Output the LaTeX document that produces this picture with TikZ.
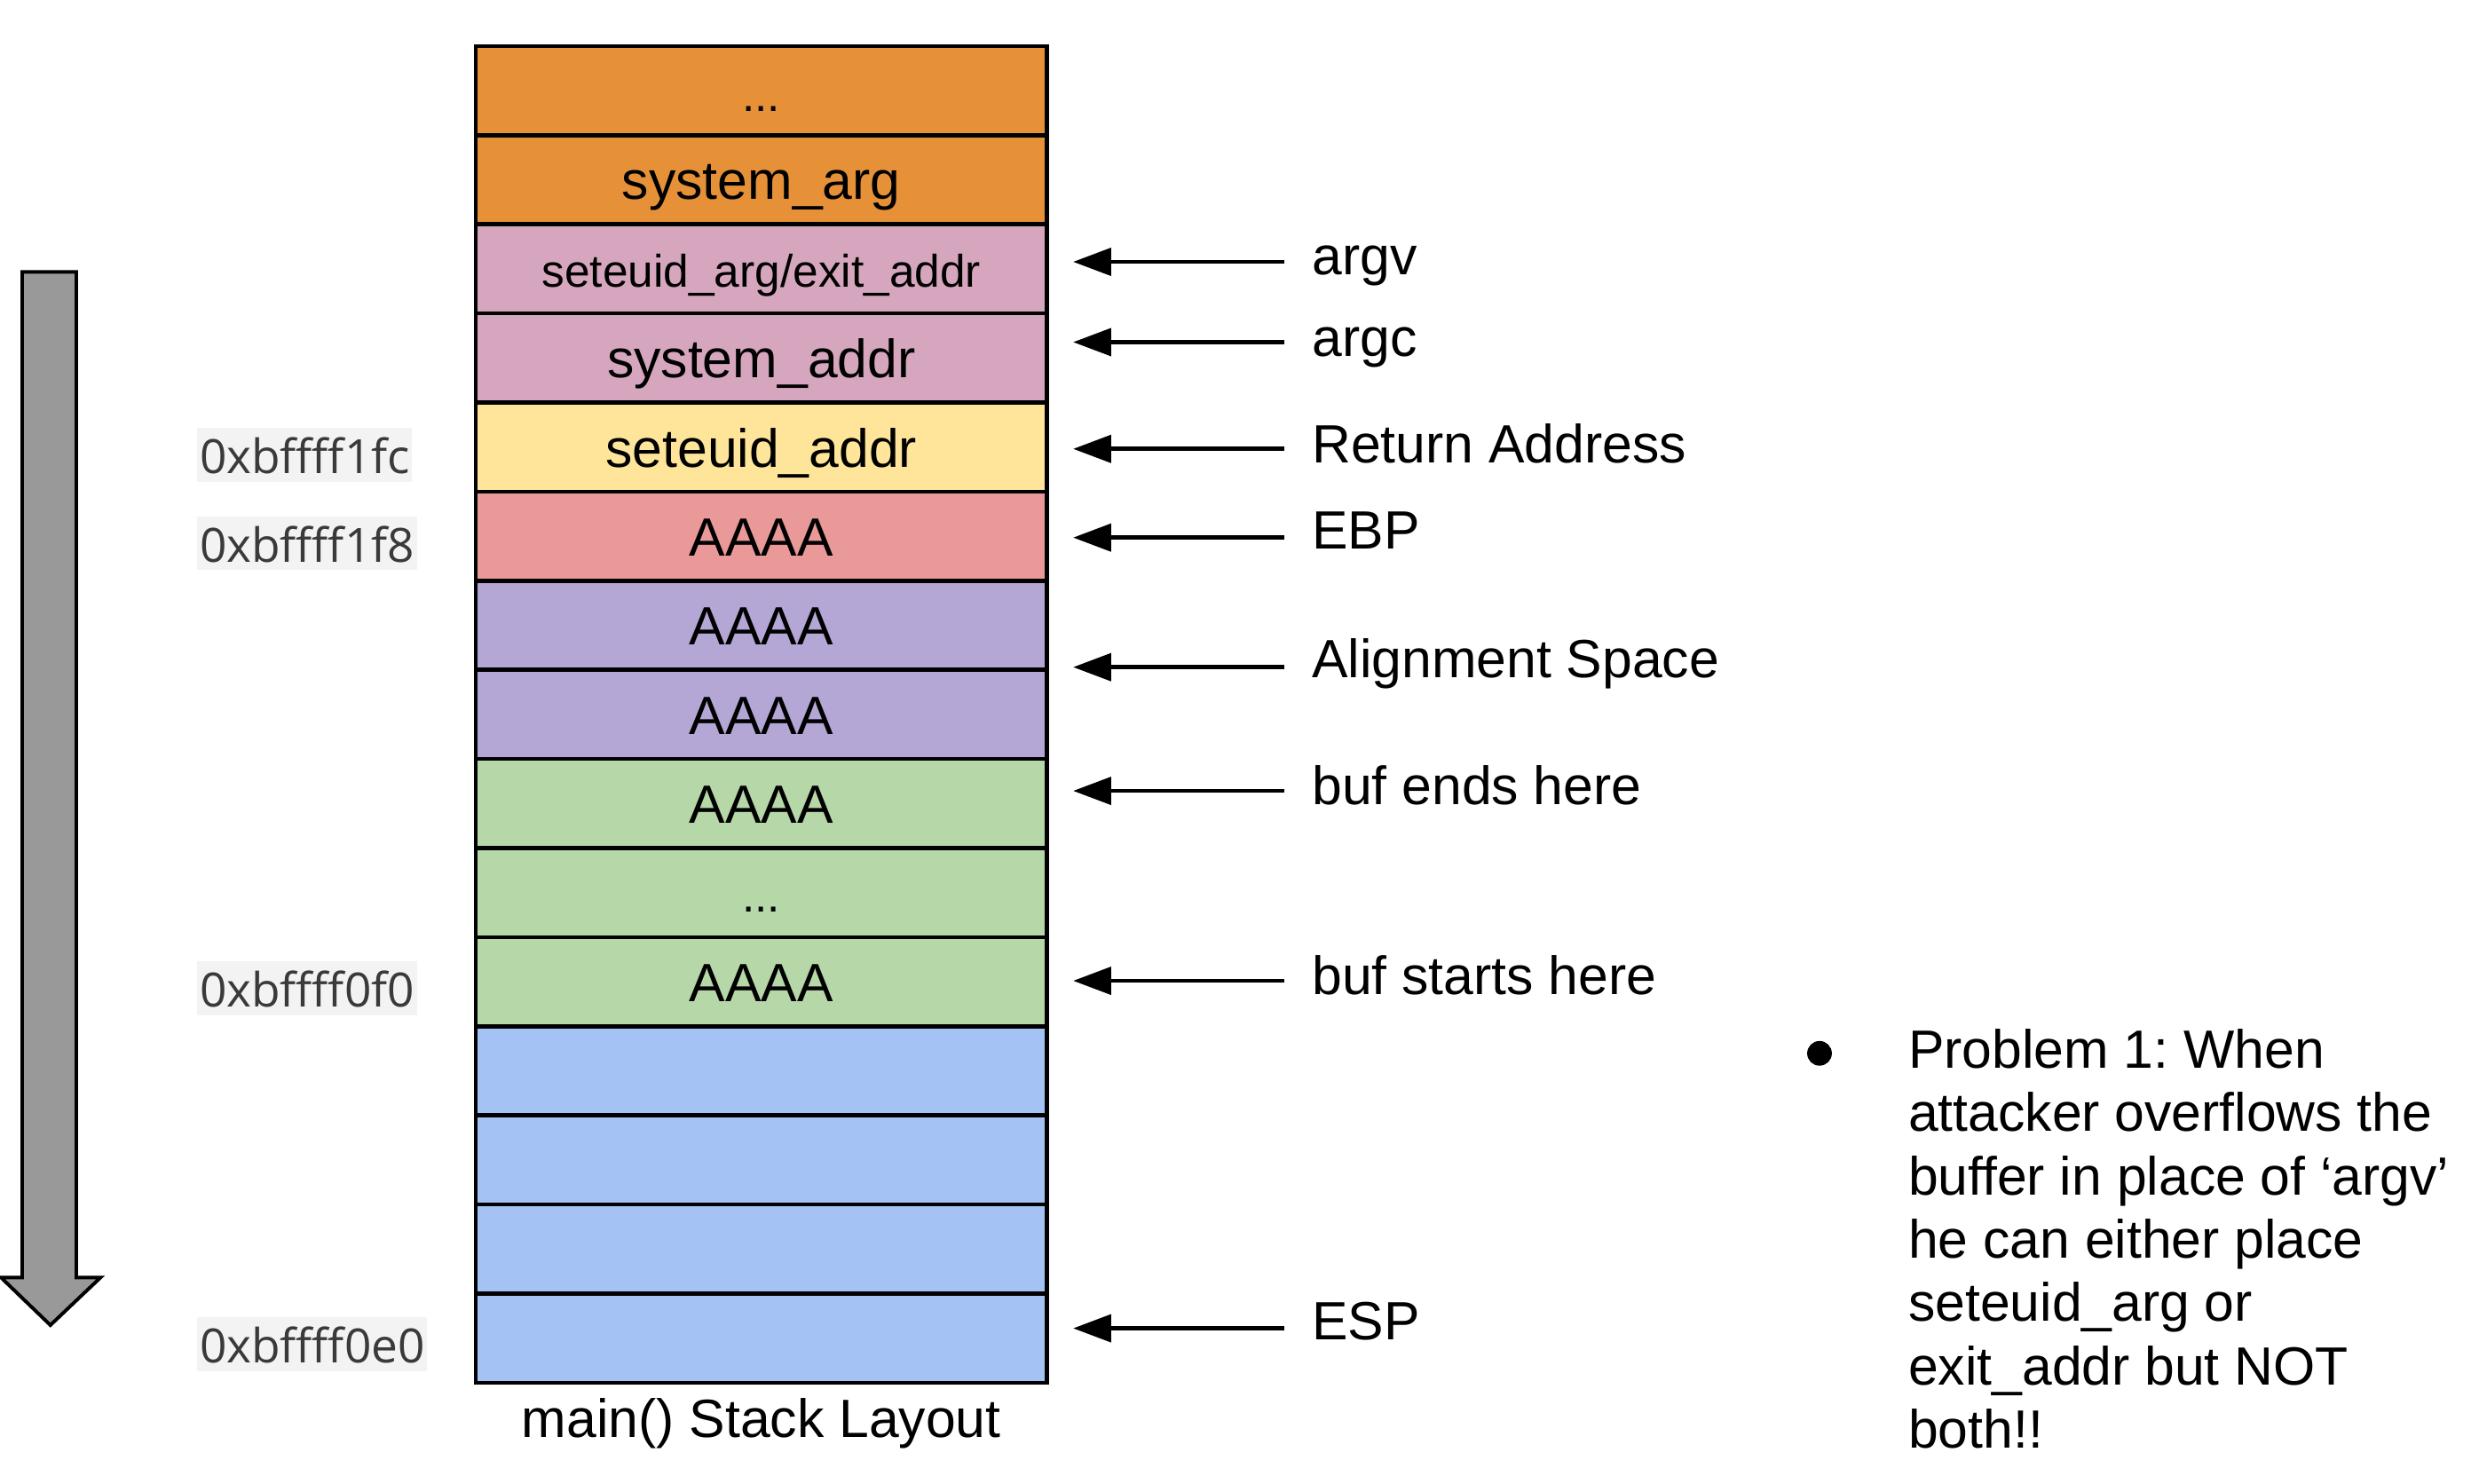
\documentclass[tikz,border=0pt]{standalone}
\usepackage{fontspec}
\setmainfont{Liberation Sans}
\newfontfamily\addrfont{Open Sans}
\usetikzlibrary{arrows.meta}
\definecolor{corange}{HTML}{E69138}
\definecolor{cpink}{HTML}{D5A6BD}
\definecolor{cyellow}{HTML}{FFE599}
\definecolor{cred}{HTML}{EA9999}
\definecolor{cpurple}{HTML}{B4A7D6}
\definecolor{cgreen}{HTML}{B6D7A8}
\definecolor{cblue}{HTML}{A4C2F4}
\definecolor{addrbg}{HTML}{F3F3F3}
\definecolor{addrtext}{HTML}{3A3A3A}
\definecolor{biggray}{HTML}{999999}
\frenchspacing
\begin{document}
\begin{tikzpicture}[x=0.5pt,y=-0.5pt,
  cell/.style={draw=black, line width=1.3pt, minimum width=180.35pt, minimum height=28.13pt,
    inner sep=0pt, text height=12.5pt, text depth=0pt, font=\fontsize{17}{20}\selectfont},
  smallcell/.style={cell, text height=11.3pt, font=\fontsize{14.4}{17}\selectfont},
  dotcell/.style={cell, text height=13pt, font=\fontsize{14.4}{17}\selectfont},
  addr/.style={fill=addrbg, text=addrtext, font=\addrfont\fontsize{14.9}{17}\selectfont,
    inner xsep=0.75pt, inner ysep=0pt, text height=14.35pt, text depth=2.65pt, anchor=base west},
  lbl/.style={inner sep=0pt, font=\fontsize{17}{20}\selectfont, anchor=base west},
  ptr/.style={-{Triangle[length=12pt,width=8.6pt]}, line width=1.35pt},
  bigarrow/.style={fill=biggray, draw=black, line width=1.1pt, line join=miter}
]
\useasboundingbox (0,0) rectangle (1560,936.9);

% big downward arrow
\draw[bigarrow] (14,171.7) -- (48.2,171.7) -- (48.2,806.5) -- (63.5,806.5) -- (31.8,836.6)
  -- (0.6,806.5) -- (14,806.5) -- cycle;

% stack cells
\node[dotcell, fill=corange] (r1) at (480.65,57.23) {...};
\node[cell, fill=corange] (r2) at (480.65,113.49) {system\_arg};
\node[smallcell, fill=cpink] (r3) at (480.65,169.75) {seteuid\_arg/exit\_addr};
\node[cell, fill=cpink] (r4) at (480.65,226.01) {system\_addr};
\node[cell, fill=cyellow] (r5) at (480.65,282.27) {seteuid\_addr};
\node[cell, fill=cred] (r6) at (480.65,338.53) {AAAA};
\node[cell, fill=cpurple] (r7) at (480.65,394.79) {AAAA};
\node[cell, fill=cpurple] (r8) at (480.65,451.05) {AAAA};
\node[cell, fill=cgreen] (r9) at (480.65,507.31) {AAAA};
\node[dotcell, text height=12.4pt, fill=cgreen] (r10) at (480.65,563.57) {...};
\node[cell, fill=cgreen] (r11) at (480.65,619.83) {AAAA};
\node[cell, fill=cblue] (r12) at (480.65,676.09) {};
\node[cell, fill=cblue] (r13) at (480.65,732.35) {};
\node[cell, fill=cblue] (r14) at (480.65,788.61) {};
\node[cell, fill=cblue] (r15) at (480.65,844.87) {};

% caption
\node[lbl, anchor=base] (cap) at (480.65,907.7) {main() Stack Layout};

% addresses
\node[addr] (a1) at (124.2,298.7) {0xbffff1fc};
\node[addr] (a2) at (124.2,354.7) {0xbffff1f8};
\node[addr] (a3) at (124.2,635.8) {0xbffff0f0};
\node[addr] (a4) at (124.2,860.5) {0xbffff0e0};

% right labels
\node[lbl] (l1) at (828,173.7) {argv};
\node[lbl] (l2) at (828,225) {argc};
\node[lbl] (l3) at (828,292.3) {Return Address};
\node[lbl] (l4) at (828,346.3) {EBP};
\node[lbl] (l5) at (828,427.7) {Alignment Space};
\node[lbl] (l6) at (828,507.7) {buf ends here};
\node[lbl] (l7) at (828,628) {buf starts here};
\node[lbl] (l8) at (828,846.1) {ESP};

% arrow end points
\coordinate (t1) at (810.6,165.3);  \coordinate (h1) at (677.5,165.3);
\coordinate (t2) at (810.6,216);    \coordinate (h2) at (677.5,216);
\coordinate (t3) at (810.6,283.4);  \coordinate (h3) at (677.5,283.4);
\coordinate (t4) at (810.6,339.4);  \coordinate (h4) at (677.5,339.4);
\coordinate (t5) at (810.6,421.2);  \coordinate (h5) at (677.5,421.2);
\coordinate (t6) at (810.6,499.3);  \coordinate (h6) at (677.5,499.3);
\coordinate (t7) at (810.6,619.2);  \coordinate (h7) at (677.5,619.2);
\coordinate (t8) at (810.6,838.6);  \coordinate (h8) at (677.5,838.6);
\foreach \i in {1,...,8} { \draw[ptr] (t\i) -- (h\i); }

% bullet note
\node[circle, fill=black, inner sep=0pt, minimum size=7.8pt] (bul) at (1148.7,665) {};
\node[inner sep=0pt, anchor=base west] (note) at (1204.4,674.3)
  {\fontsize{17}{20}\selectfont\begin{tabular}[t]{@{}l@{}}
  Problem 1: When\\
  attacker overflows the\\
  buffer in place of ‘argv’\\
  he can either place\\
  seteuid\_arg or\\
  exit\_addr but NOT\\
  both!!
  \end{tabular}};
\end{tikzpicture}
\end{document}
